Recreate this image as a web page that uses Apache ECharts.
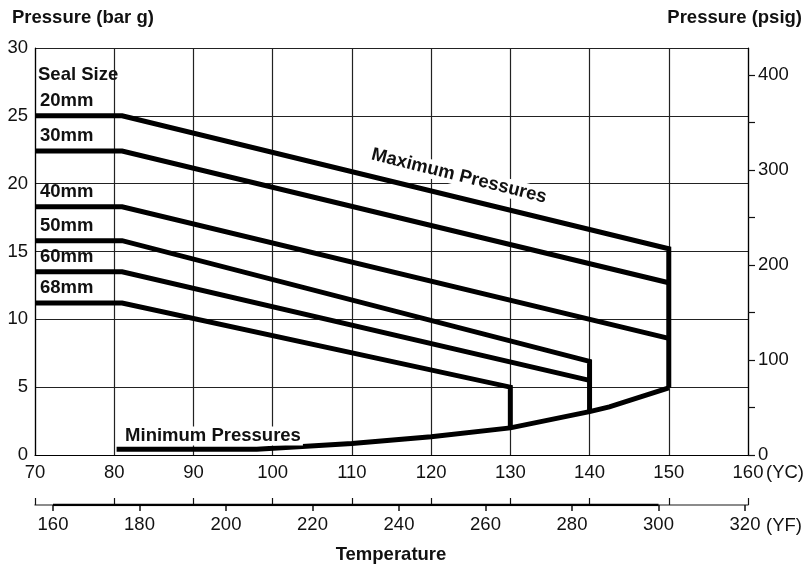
<!DOCTYPE html>
<html>
<head>
<meta charset="utf-8">
<script src="https://cdn.jsdelivr.net/npm/echarts@6/dist/echarts.min.js"></script>
<style>
html,body{margin:0;padding:0;background:#fff;}
#main{width:804px;height:568px;}
</style>
</head>
<body>
<div id="main"></div>
<script>
// ---- data ----
const tempC_ticks = [70, 80, 90, 100, 110, 120, 130, 140, 150, 160];
const tempF_ticks = [160, 180, 200, 220, 240, 260, 280, 300, 320];
const fBoldSegment = [160, 300];
const psigTicks = [0, 50, 100, 150, 200, 250, 300, 350, 400];
const psigLabels = [0, 100, 200, 300, 400];

const seal20mm = [[70, 25.0], [81, 25.0], [150, 15.2], [150, 4.95]];
const seal30mm = [[70, 22.4], [81, 22.4], [150, 12.7]];
const seal40mm = [[70, 18.3], [81, 18.3], [150, 8.6]];
const seal50mm = [[70, 15.8], [81, 15.8], [140, 6.9], [140, 3.2]];
const seal60mm = [[70, 13.5], [81, 13.5], [140, 5.5]];
const seal68mm = [[70, 11.2], [81, 11.2], [130, 5.0], [130, 2.0]];
const minimumPressure = [[80.3, 0.42], [98, 0.42], [110, 0.85], [120, 1.35], [130, 2.0], [140, 3.2], [142.5, 3.55], [150, 4.95]];

const sealNames = ['20mm', '30mm', '40mm', '50mm', '60mm', '68mm'];
const sealSeries = [seal20mm, seal30mm, seal40mm, seal50mm, seal60mm, seal68mm];

// ---- styling ----
const FONT = "'Liberation Sans',Arial,Helvetica,sans-serif";
const lineCol = '#222';

const chart = echarts.init(document.getElementById('main'), null, {renderer: 'canvas'});

const series = sealSeries.map((d, i) => ({
  name: sealNames[i], type: 'line', xAxisIndex: 0, yAxisIndex: 0,
  data: d, showSymbol: false, symbol: 'none', silent: true, z: 5,
  lineStyle: {color: '#000', width: 5, join: 'miter', cap: 'butt'}
}));
series.push({
  name: 'Minimum', type: 'line', xAxisIndex: 0, yAxisIndex: 0,
  data: minimumPressure, showSymbol: false, symbol: 'none', silent: true, z: 5,
  lineStyle: {color: '#000', width: 5, join: 'miter', cap: 'butt'}
});
series.push({
  name: 'Fseg', type: 'line', xAxisIndex: 2, yAxisIndex: 2,
  data: fBoldSegment.map(v => [v, 0]), showSymbol: false, symbol: 'none', silent: true, z: 5,
  lineStyle: {color: '#000', width: 2.5}
});

const option = {
  animation: false,
  backgroundColor: '#fff',
  grid: [
    {left: 35, right: 56, top: 48, bottom: 113, containLabel: false},
    {left: 35, right: 56, top: 504, height: 1, containLabel: false}
  ],
  xAxis: [
    {
      gridIndex: 0, type: 'value', position: 'bottom', min: 70, max: 160, interval: 10,
      axisLine: {show: true, lineStyle: {color: '#000', width: 1.2}},
      axisTick: {show: false},
      splitLine: {show: true, lineStyle: {color: lineCol, width: 1.2}},
      axisLabel: {show: true, margin: 8, color: '#111', fontFamily: FONT, fontSize: 18.5,
        showMinLabel: true, showMaxLabel: true}
    },
    {
      gridIndex: 1, type: 'value', position: 'top', min: 70, max: 160, interval: 10,
      axisLine: {show: true, lineStyle: {color: '#666', width: 1.5}},
      axisTick: {show: true, inside: false, length: 7, lineStyle: {color: '#111', width: 1.2}},
      splitLine: {show: false},
      axisLabel: {show: false}
    },
    {
      gridIndex: 1, type: 'value', position: 'bottom', min: 155.84, max: 320.69,
      axisLine: {show: false},
      axisTick: {show: true, inside: false, length: 6, customValues: tempF_ticks, lineStyle: {color: '#111', width: 1.5}},
      splitLine: {show: false},
      axisLabel: {show: true, margin: 10, color: '#111', fontFamily: FONT, fontSize: 18.5, customValues: tempF_ticks}
    }
  ],
  yAxis: [
    {
      gridIndex: 0, type: 'value', position: 'left', min: 0, max: 30, interval: 5,
      axisLine: {show: true, lineStyle: {color: '#000', width: 1.2}},
      axisTick: {show: false},
      splitLine: {show: true, lineStyle: {color: lineCol, width: 1.2}},
      axisLabel: {show: true, margin: 7, color: '#111', fontFamily: FONT, fontSize: 18.5}
    },
    {
      gridIndex: 0, type: 'value', position: 'right', min: 0, max: 428.4,
      axisLine: {show: true, lineStyle: {color: '#000', width: 1.2}},
      axisTick: {show: true, inside: false, length: 7, customValues: psigTicks, lineStyle: {color: '#111', width: 1.2}},
      splitLine: {show: false},
      axisLabel: {show: true, margin: 10, color: '#111', fontFamily: FONT, fontSize: 18.5, customValues: psigLabels}
    },
    {
      gridIndex: 1, type: 'value', min: 0, max: 1, show: false
    }
  ],
  series: series
};
chart.setOption(option);

// ---- text annotations ----
const boldFont = (size) => 'bold ' + size + 'px ' + FONT;
const graphics = [
  {type: 'text', x: 12, y: 18, style: {text: 'Pressure (bar g)', font: boldFont(18.5), fill: '#111', align: 'left', verticalAlign: 'middle'}},
  {type: 'text', x: 802, y: 18, style: {text: 'Pressure (psig)', font: boldFont(18.5), fill: '#111', align: 'right', verticalAlign: 'middle'}},
  {type: 'text', x: 391, y: 555, style: {text: 'Temperature', font: boldFont(18.5), fill: '#111', align: 'center', verticalAlign: 'middle'}},
  {type: 'text', x: 766, y: 473, style: {text: '(ΥC)', font: '18.5px ' + FONT, fill: '#111', align: 'left', verticalAlign: 'middle'}},
  {type: 'text', x: 766, y: 526, style: {text: '(ΥF)', font: '18.5px ' + FONT, fill: '#111', align: 'left', verticalAlign: 'middle'}},
  {type: 'text', x: 38, y: 75, z: 10, style: {text: 'Seal Size', font: boldFont(18.5), fill: '#111', align: 'left', verticalAlign: 'middle'}},
  {type: 'text', x: 459, y: 176, rotation: -14 * Math.PI / 180, z: 10,
    style: {text: 'Maximum Pressures', font: boldFont(18.5), fill: '#111', align: 'center', verticalAlign: 'middle', backgroundColor: '#fff', padding: [0, 2]}},
  {type: 'text', x: 213, y: 436, z: 10,
    style: {text: 'Minimum Pressures', font: boldFont(18.5), fill: '#111', align: 'center', verticalAlign: 'middle', backgroundColor: '#fff', padding: [0, 2]}}
];
sealSeries.forEach((d, i) => {
  const p = chart.convertToPixel({gridIndex: 0}, d[0]);
  graphics.push({type: 'text', x: p[0] + 5, y: p[1] - 15, z: 10,
    style: {text: sealNames[i], font: boldFont(18.5), fill: '#111', align: 'left', verticalAlign: 'middle'}});
});
chart.setOption({graphic: graphics});
</script>
</body>
</html>
